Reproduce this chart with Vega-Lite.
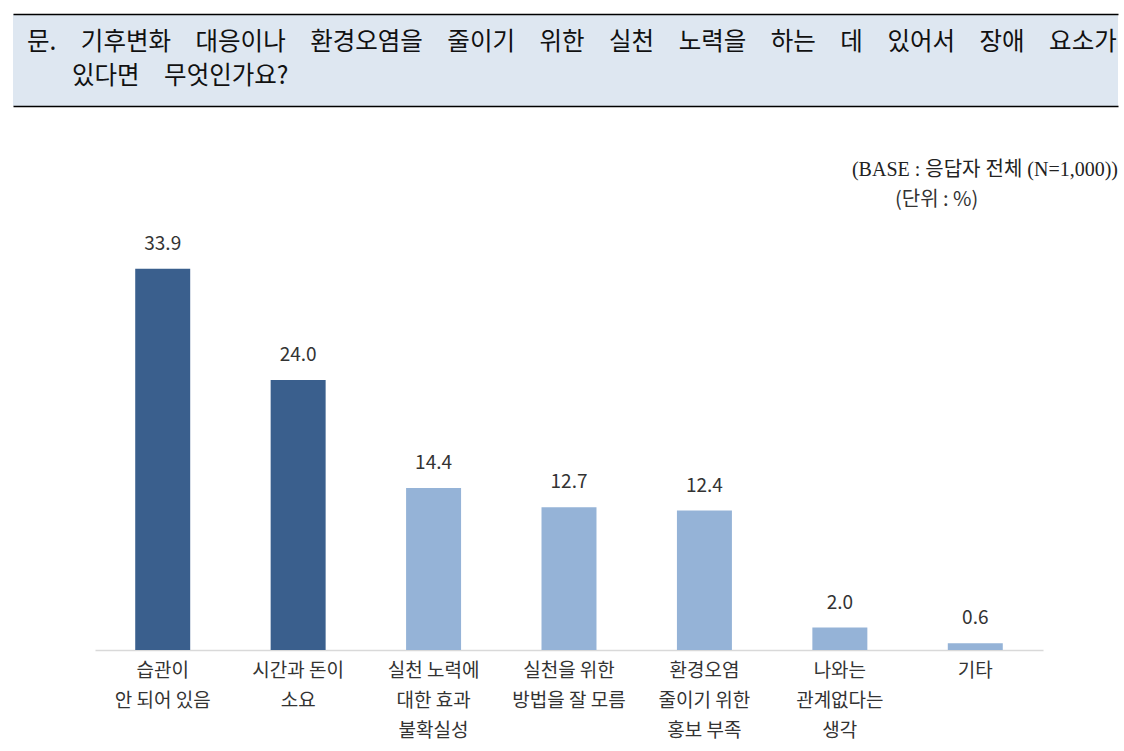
{
  "$schema": "https://vega.github.io/schema/vega-lite/v6.json",
  "background": "white",
  "padding": {"top": 14, "left": 13, "right": 6, "bottom": 0},
  "spacing": 54,
  "config": {"view": {"stroke": null}, "font": "Noto Sans CJK KR"},
  "vconcat": [
    {
      "width": 1105,
      "height": 92,
      "view": {"fill": "#dee7f1", "stroke": null},
      "data": {"values": [
        {"line": "1", "text": "문.\u2003기후변화\u2003대응이나\u2003환경오염을\u2003줄이기\u2003위한\u2003실천\u2003노력을\u2003하는\u2003데\u2003있어서\u2003장애\u2003요소가"},
        {"line": "2", "text": "있다면\u2003무엇인가요?"}
      ]},
      "layer": [
        {
          "transform": [{"filter": "datum.line == '1'"}],
          "mark": {"type": "text", "align": "left", "baseline": "middle", "dx": 14, "fontSize": 24.5, "font": "Noto Sans CJK KR", "color": "#111"},
          "encoding": {
            "x": {"datum": 0, "type": "quantitative", "scale": {"domain": [0, 1]},
              "axis": {"orient": "bottom", "domain": true, "domainColor": "#000", "domainWidth": 1.5, "ticks": false, "labels": false, "grid": false, "title": null}},
            "y": {"field": "line", "type": "ordinal", "axis": null, "scale": {"domain": ["1", "2"], "padding": 0.82}},
            "text": {"field": "text"}
          }
        },
        {
          "transform": [{"filter": "datum.line == '2'"}],
          "mark": {"type": "text", "align": "left", "baseline": "middle", "dx": 59, "fontSize": 24.5, "font": "Noto Sans CJK KR", "color": "#111"},
          "encoding": {
            "x": {"datum": 0, "type": "quantitative", "scale": {"domain": [0, 1]},
              "axis": {"orient": "top", "domain": true, "domainColor": "#000", "domainWidth": 1.5, "ticks": false, "labels": false, "grid": false, "title": null}},
            "y": {"field": "line", "type": "ordinal", "axis": null, "scale": {"domain": ["1", "2"], "padding": 0.82}},
            "text": {"field": "text"}
          }
        }
      ],
      "resolve": {"axis": {"x": "independent"}}
    },
    {
      "width": 1105,
      "height": 450,
      "title": {"text": "(BASE : 응답자 전체 (N=1,000))", "anchor": "end", "fontSize": 20, "fontWeight": "normal", "font": "Liberation Serif, Noto Sans CJK KR", "color": "#222", "offset": 10},
      "layer": [
        {
          "data": {"values": [
            {"reason": "습관이\n안 되어 있음", "pct": 33.9, "group": "상위"},
            {"reason": "시간과 돈이\n소요", "pct": 24.0, "group": "상위"},
            {"reason": "실천 노력에\n대한 효과\n불확실성", "pct": 14.4, "group": "나머지"},
            {"reason": "실천을 위한\n방법을 잘 모름", "pct": 12.7, "group": "나머지"},
            {"reason": "환경오염\n줄이기 위한\n홍보 부족", "pct": 12.4, "group": "나머지"},
            {"reason": "나와는\n관계없다는\n생각", "pct": 2.0, "group": "나머지"},
            {"reason": "기타", "pct": 0.6, "group": "나머지"}
          ]},
          "encoding": {
            "x": {"field": "reason", "type": "nominal", "sort": null,
              "scale": {"range": [82, 1030], "paddingInner": 0.594, "paddingOuter": 0.297},
              "axis": {"title": null, "labelAngle": 0, "ticks": false, "domainColor": "#d9d9d9", "domainWidth": 1.5,
                "labelExpr": "split(datum.label, '\\n')", "labelFontSize": 19, "labelColor": "#333", "labelLineHeight": 30,
                "labelPadding": 11, "labelFont": "Noto Sans CJK KR", "labelLimit": 0}},
            "y": {"field": "pct", "type": "quantitative", "scale": {"domain": [0, 40]}, "axis": null}
          },
          "layer": [
            {
              "mark": {"type": "bar"},
              "encoding": {
                "color": {"field": "group", "type": "nominal", "scale": {"domain": ["상위", "나머지"], "range": ["#3a5f8d", "#95b3d7"]}, "legend": null}
              }
            },
            {
              "mark": {"type": "text", "baseline": "alphabetic", "dy": -19, "fontSize": 19, "color": "#333", "font": "Noto Sans CJK KR"},
              "encoding": {"text": {"field": "pct", "type": "quantitative", "format": ".1f"}}
            }
          ]
        },
        {
          "data": {"values": [{"note": "(단위 : %)"}]},
          "mark": {"type": "text", "align": "right", "baseline": "middle", "dx": 3, "fontSize": 20, "color": "#333", "font": "Noto Sans CJK KR"},
          "encoding": {
            "x": {"datum": "기타", "type": "nominal"},
            "y": {"datum": 40, "type": "quantitative"},
            "text": {"field": "note"}
          }
        }
      ]
    }
  ]
}
